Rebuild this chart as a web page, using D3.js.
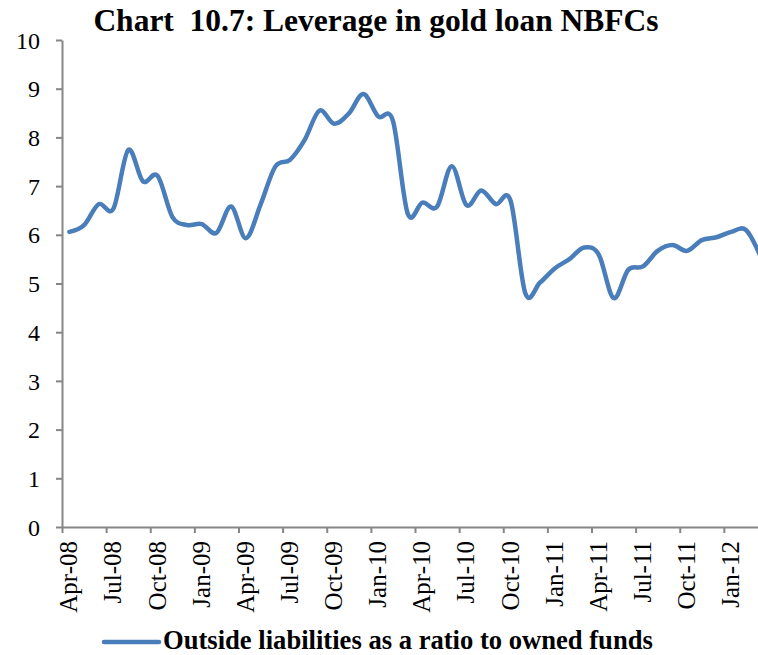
<!DOCTYPE html>
<html>
<head>
<meta charset="utf-8">
<script src="https://cdn.jsdelivr.net/npm/d3@7"></script>
<style>
  html, body { margin: 0; padding: 0; background: #fff; overflow: hidden; }
  svg { display: block; }
  text { font-family: "Liberation Serif", "Times New Roman", serif; fill: #000; }
</style>
</head>
<body>
<svg id="chart" width="758" height="655"></svg>
<script>
const title = "Chart  10.7: Leverage in gold loan NBFCs";
const seriesName = "Outside liabilities as a ratio to owned funds";

const months = [
  "Apr-08","May-08","Jun-08","Jul-08","Aug-08","Sep-08","Oct-08","Nov-08","Dec-08","Jan-09","Feb-09","Mar-09",
  "Apr-09","May-09","Jun-09","Jul-09","Aug-09","Sep-09","Oct-09","Nov-09","Dec-09","Jan-10","Feb-10","Mar-10",
  "Apr-10","May-10","Jun-10","Jul-10","Aug-10","Sep-10","Oct-10","Nov-10","Dec-10","Jan-11","Feb-11","Mar-11",
  "Apr-11","May-11","Jun-11","Jul-11","Aug-11","Sep-11","Oct-11","Nov-11","Dec-11","Jan-12","Feb-12","Mar-12"
];

const leverage = [
  6.06, 6.20, 6.63, 6.54, 7.74, 7.10, 7.21, 6.37, 6.20, 6.22, 6.04, 6.58,
  5.93, 6.62, 7.40, 7.54, 7.95, 8.55, 8.28, 8.49, 8.89, 8.43, 8.34, 6.44,
  6.66, 6.58, 7.41, 6.61, 6.91, 6.63, 6.70, 4.80, 5.02, 5.31, 5.50, 5.74,
  5.59, 4.70, 5.28, 5.35, 5.67, 5.79, 5.67, 5.89, 5.95, 6.06, 6.10, 5.55
];

const xTickLabels = ["Apr-08","Jul-08","Oct-08","Jan-09","Apr-09","Jul-09","Oct-09","Jan-10",
  "Apr-10","Jul-10","Oct-10","Jan-11","Apr-11","Jul-11","Oct-11","Jan-12"];
const yTicks = [0,1,2,3,4,5,6,7,8,9,10];

const svg = d3.select("#chart");
const mLeft = 62, mRight = 768, mTop = 40, mBottom = 527;
const axisColor = "#868686";
const lineColor = "#4A7EBB";

const x = d3.scaleBand().domain(months).range([mLeft, mRight]).padding(0);
const xi = d3.scaleLinear().domain([0, months.length]).range([mLeft, mRight]);
const y = d3.scaleLinear().domain([0, 10]).range([mBottom, mTop]);

// Y axis
const yAxis = svg.append("g")
  .attr("transform", `translate(${mLeft},0)`)
  .call(d3.axisLeft(y).tickValues(yTicks).tickFormat(d3.format("d")).tickSize(6).tickSizeOuter(0).tickPadding(16));
yAxis.select(".domain").attr("stroke", axisColor).attr("stroke-width", 2);
yAxis.selectAll(".tick line").attr("stroke", axisColor).attr("stroke-width", 2);
yAxis.selectAll(".tick text").attr("font-size", 24).attr("font-family", "Liberation Serif").attr("fill", "#000").attr("dy", "0.34em");

// X axis tick marks at category boundaries
const tickIdx = d3.range(0, months.length + 1, 3);
const xAxisTicks = svg.append("g")
  .attr("transform", `translate(0,${mBottom})`)
  .call(d3.axisBottom(xi).tickValues(tickIdx).tickFormat("").tickSize(6).tickSizeOuter(0));
xAxisTicks.select(".domain").attr("stroke", axisColor).attr("stroke-width", 2);
xAxisTicks.selectAll(".tick line").attr("stroke", axisColor).attr("stroke-width", 2);

// X labels centered on categories
const xAxisLabels = svg.append("g")
  .attr("transform", `translate(0,${mBottom})`)
  .call(d3.axisBottom(x).tickValues(xTickLabels).tickSize(0).tickSizeOuter(0));
xAxisLabels.select(".domain").remove();
xAxisLabels.selectAll(".tick text")
  .attr("font-size", 25).attr("font-family", "Liberation Serif").attr("fill", "#000")
  .attr("text-anchor", "end")
  .attr("transform", "translate(8,14) rotate(-90)")
  .attr("x", 0).attr("y", 0).attr("dy", 0);

// Line
const line = d3.line()
  .x((d, i) => x(months[i]) + x.bandwidth() / 2)
  .y(d => y(d))
  .curve(d3.curveCardinal.tension(0));
svg.append("path")
  .datum(leverage)
  .attr("fill", "none")
  .attr("stroke", lineColor)
  .attr("stroke-width", 4.5)
  .attr("stroke-linejoin", "round")
  .attr("stroke-linecap", "round")
  .attr("d", line);

// Title
svg.append("text")
  .attr("x", 376).attr("y", 31)
  .attr("text-anchor", "middle")
  .style("white-space", "pre")
  .attr("font-size", 31.5).attr("font-weight", "bold")
  .text(title);

// Legend
svg.append("line")
  .attr("x1", 104).attr("x2", 159).attr("y1", 642).attr("y2", 642)
  .attr("stroke", lineColor).attr("stroke-width", 4.5).attr("stroke-linecap", "round");
svg.append("text")
  .attr("x", 163).attr("y", 649)
  .attr("font-size", 26.6).attr("font-weight", "bold")
  .text(seriesName);
</script>
</body>
</html>
